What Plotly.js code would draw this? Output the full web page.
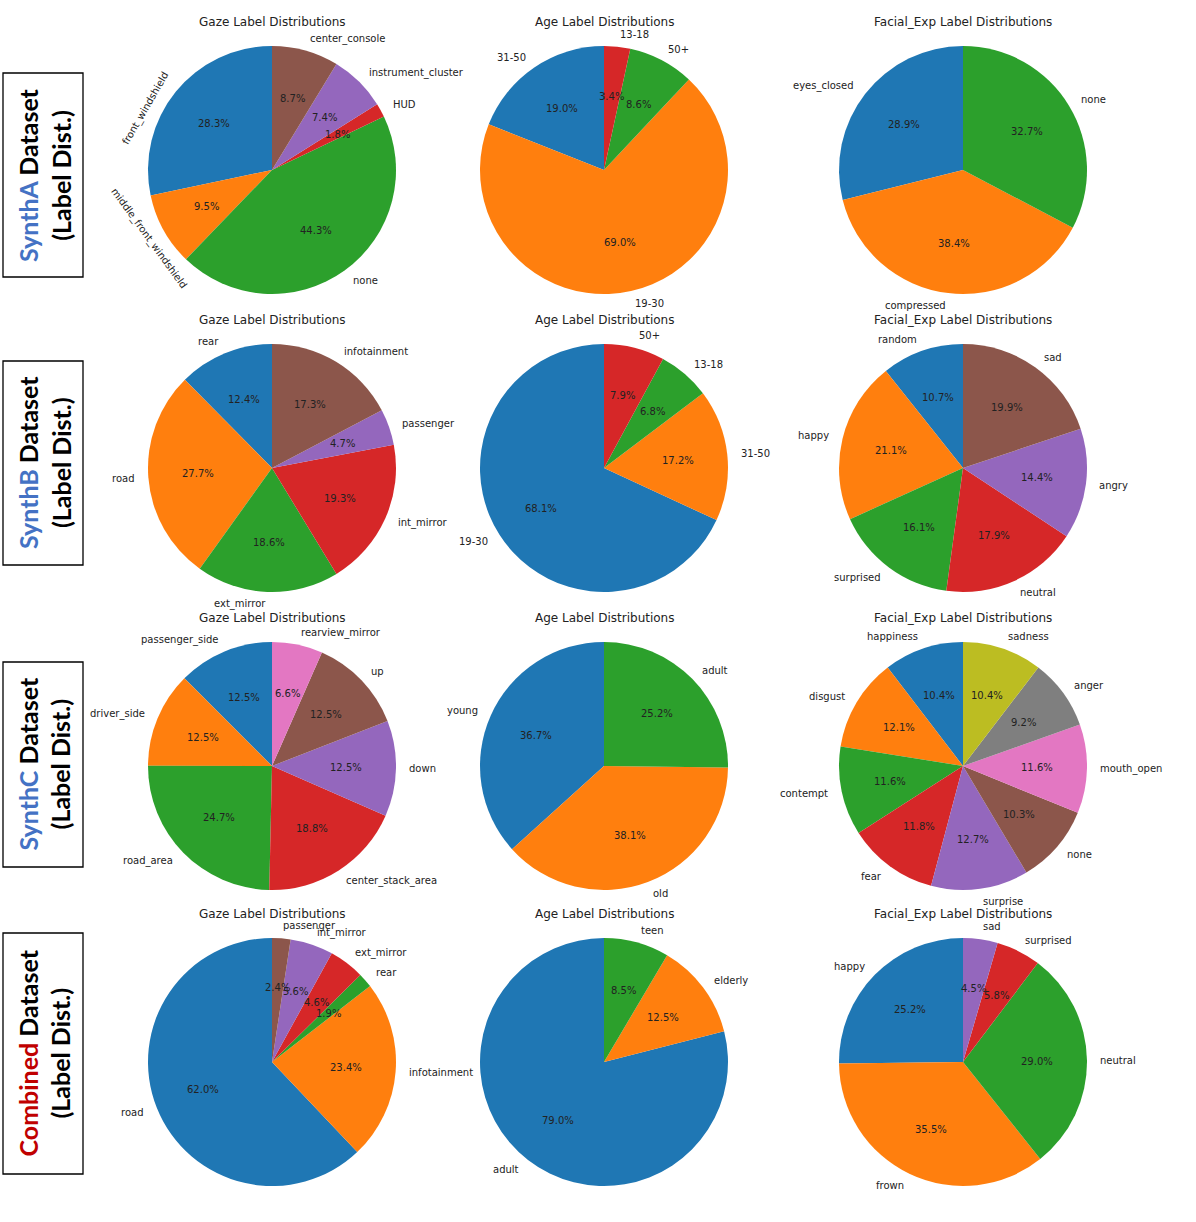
<!DOCTYPE html>
<html>
<head>
<meta charset="utf-8">
<script src="https://cdn.plot.ly/plotly-3.0.1.min.js"></script>
<style>html,body{margin:0;padding:0;background:#fff;}#chart{width:1196px;height:1222px;}</style>
</head>
<body>
<div id="chart"></div>
<script>
// ---------- DATA ----------
const rowNames = ['SynthA', 'SynthB', 'SynthC', 'Combined'];
const colTitles = ['Gaze Label Distributions', 'Age Label Distributions', 'Facial_Exp Label Distributions'];

const gazeA_labels = ['front_windshield', 'middle_front_windshield', 'none', 'HUD', 'instrument_cluster', 'center_console'];
const gazeA_values = [28.3, 9.5, 44.3, 1.8, 7.4, 8.7];
const ageA_labels = ['31-50', '19-30', '50+', '13-18'];
const ageA_values = [19.0, 69.0, 8.6, 3.4];
const faceA_labels = ['eyes_closed', 'compressed', 'none'];
const faceA_values = [28.9, 38.4, 32.7];

const gazeB_labels = ['rear', 'road', 'ext_mirror', 'int_mirror', 'passenger', 'infotainment'];
const gazeB_values = [12.4, 27.7, 18.6, 19.3, 4.7, 17.3];
const ageB_labels = ['19-30', '31-50', '13-18', '50+'];
const ageB_values = [68.1, 17.2, 6.8, 7.9];
const faceB_labels = ['random', 'happy', 'surprised', 'neutral', 'angry', 'sad'];
const faceB_values = [10.7, 21.1, 16.1, 17.9, 14.4, 19.9];

const gazeC_labels = ['passenger_side', 'driver_side', 'road_area', 'center_stack_area', 'down', 'up', 'rearview_mirror'];
const gazeC_values = [12.5, 12.5, 24.7, 18.8, 12.5, 12.5, 6.6];
const ageC_labels = ['young', 'old', 'adult'];
const ageC_values = [36.7, 38.1, 25.2];
const faceC_labels = ['happiness', 'disgust', 'contempt', 'fear', 'surprise', 'none', 'mouth_open', 'anger', 'sadness'];
const faceC_values = [10.4, 12.1, 11.6, 11.8, 12.7, 10.3, 11.6, 9.2, 10.4];

const gazeD_labels = ['road', 'infotainment', 'rear', 'ext_mirror', 'int_mirror', 'passenger'];
const gazeD_values = [62.0, 23.4, 1.9, 4.6, 5.6, 2.4];
const ageD_labels = ['adult', 'elderly', 'teen'];
const ageD_values = [79.0, 12.5, 8.5];
const faceD_labels = ['happy', 'frown', 'neutral', 'surprised', 'sad'];
const faceD_values = [25.2, 35.5, 29.0, 5.8, 4.5];

// ---------- LAYOUT / STYLE ----------
const W = 1196, H = 1222;
const colors = ['#1f77b4','#ff7f0e','#2ca02c','#d62728','#9467bd','#8c564b','#e377c2','#7f7f7f','#bcbd22','#17becf'];
const colX = [272, 604, 963];
const rowY = [170, 468, 766, 1062];
const R = 124;
const boxes = [[73, 277], [361, 565], [662, 867], [933, 1174]];
const rowColors = ['#4472C4', '#4472C4', '#4472C4', '#C00000'];
// special rotated labels (style only)
const rotated = {
  'front_windshield': {rot: -60, dAng: 13, dist: 1.13},
  'middle_front_windshield': {rot: 54, dAng: 0, dist: 1.14}
};

const pies = [
  [gazeA_labels, gazeA_values, 0, 0, true], [ageA_labels, ageA_values, 0, 1, false], [faceA_labels, faceA_values, 0, 2, false],
  [gazeB_labels, gazeB_values, 1, 0, false], [ageB_labels, ageB_values, 1, 1, false], [faceB_labels, faceB_values, 1, 2, false],
  [gazeC_labels, gazeC_values, 2, 0, false], [ageC_labels, ageC_values, 2, 1, false], [faceC_labels, faceC_values, 2, 2, false],
  [gazeD_labels, gazeD_values, 3, 0, false], [ageD_labels, ageD_values, 3, 1, false], [faceD_labels, faceD_values, 3, 2, false]
];

const px = x => x / W;
const py = y => 1 - y / H;
const textFont = {family: 'DejaVu Sans', size: 10, color: '#222'};

const traces = [];
const annotations = [];
const shapes = [];

pies.forEach(([labels, values, row, col, useRot]) => {
  const cx = colX[col], cy = rowY[row];
  const total = values.reduce((a, b) => a + b, 0);
  traces.push({
    type: 'pie', labels: labels, values: values,
    sort: false, direction: 'counterclockwise',
    // plotly's counterclockwise mode ends the first slice at 'rotation'; shift so it starts at 12 o'clock
    rotation: -values[0] / total * 360,
    marker: {colors: colors.slice(0, labels.length), line: {width: 0}},
    textinfo: 'none', hoverinfo: 'skip', showlegend: false,
    domain: {x: [px(cx - R), px(cx + R)], y: [py(cy + R), py(cy - R)]}
  });
  annotations.push({
    text: colTitles[col], x: px(cx), y: py(cy - 148), xref: 'paper', yref: 'paper',
    xanchor: 'center', yanchor: 'middle', showarrow: false, borderpad: 0,
    font: {family: 'DejaVu Sans', size: 12, color: '#222'}
  });
  let cum = 0;
  values.forEach((v, i) => {
    const mid = (cum + v / 2) / total;
    cum += v;
    const th = (90 + mid * 360) * Math.PI / 180;
    const c = Math.cos(th), s = Math.sin(th);
    // percent
    annotations.push({
      text: v.toFixed(1) + '%', x: px(cx + 0.6 * R * c), y: py(cy - 0.6 * R * s),
      xref: 'paper', yref: 'paper', xanchor: 'center', yanchor: 'middle',
      showarrow: false, borderpad: 0, font: textFont
    });
    // label
    const rs = useRot ? rotated[labels[i]] : null;
    if (rs) {
      const th2 = th + rs.dAng * Math.PI / 180;
      annotations.push({
        text: labels[i], x: px(cx + rs.dist * R * Math.cos(th2)), y: py(cy - rs.dist * R * Math.sin(th2)),
        xref: 'paper', yref: 'paper', xanchor: 'center', yanchor: 'middle', textangle: rs.rot,
        showarrow: false, borderpad: 0, font: textFont
      });
    } else {
      annotations.push({
        text: labels[i], x: px(cx + 1.1 * R * c), y: py(cy - 1.1 * R * s),
        xref: 'paper', yref: 'paper', xanchor: c > 0 ? 'left' : 'right', yanchor: 'middle',
        showarrow: false, borderpad: 0, font: textFont
      });
    }
  });
});

rowNames.forEach((name, i) => {
  const [y0, y1] = boxes[i];
  shapes.push({type: 'rect', xref: 'paper', yref: 'paper', x0: px(3), x1: px(83), y0: py(y1), y1: py(y0),
    line: {color: '#000', width: 1.3}, fillcolor: 'rgba(0,0,0,0)'});
  annotations.push({
    text: '<b><span style="color:' + rowColors[i] + '">' + name + '</span> Dataset<br>(Label Dist.)</b>',
    x: px(44), y: py((y0 + y1) / 2), xref: 'paper', yref: 'paper', xanchor: 'center', yanchor: 'middle',
    textangle: -90, showarrow: false, borderpad: 0,
    font: {family: 'Lato', size: 25, color: '#000'}
  });
});

Plotly.newPlot('chart', traces, {
  width: W, height: H, margin: {l: 0, r: 0, t: 0, b: 0},
  paper_bgcolor: '#fff', plot_bgcolor: '#fff',
  annotations: annotations, shapes: shapes
}, {staticPlot: true});
</script>
</body>
</html>
